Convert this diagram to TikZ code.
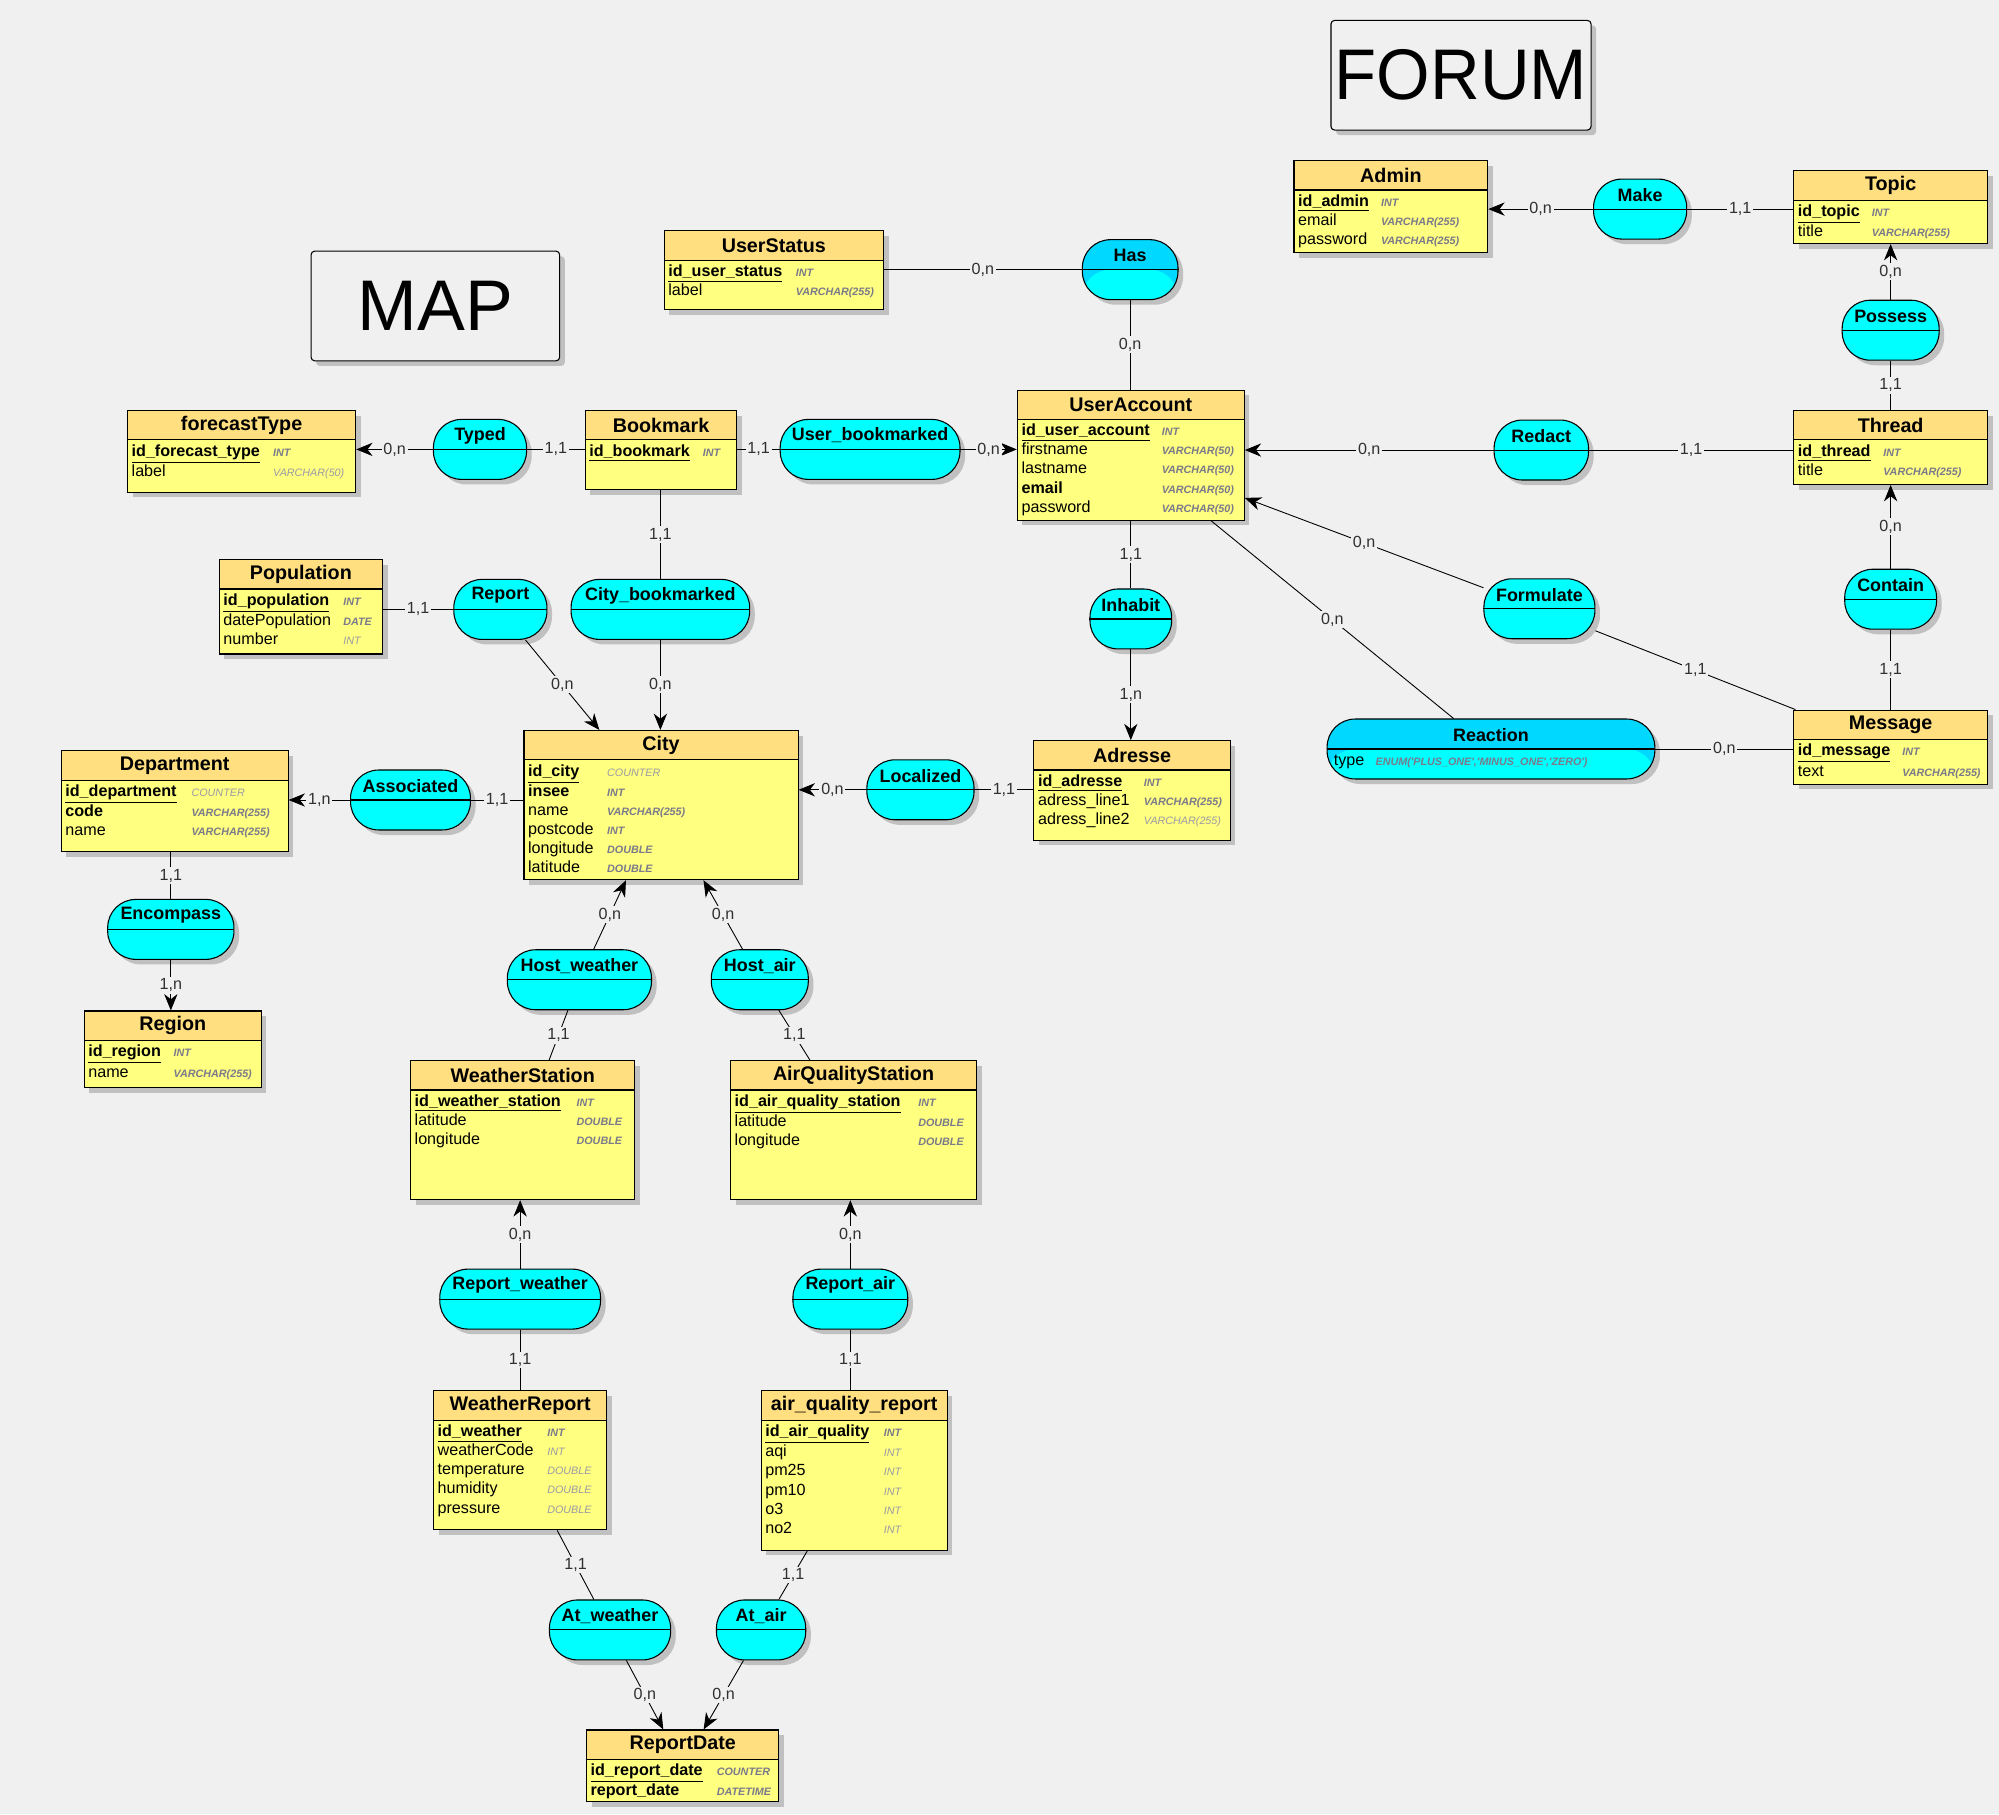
\documentclass[tikz,border=0pt]{standalone}
\usepackage{fontspec}
\setmainfont{Liberation Sans}
\usetikzlibrary{positioning,calc,fit,shadows,arrows.meta}

\definecolor{bgcol}{HTML}{F0F0F0}
\definecolor{entyellow}{HTML}{FFFF80}
\definecolor{headorange}{HTML}{FFDF80}
\definecolor{assoccyan}{HTML}{00FFFF}
\definecolor{assocdeep}{HTML}{00D8FF}
\definecolor{shadowgray}{HTML}{C0C0C0}
\definecolor{typegray}{HTML}{7A7A8A}
\definecolor{typelight}{HTML}{9A9AA6}
\definecolor{cardgray}{HTML}{303030}

\newlength\unitpx
\setlength\unitpx{0.025cm}

\tikzset{%
  entbody/.style={
    draw, fill=entyellow, inner sep=0pt, line width=0.6pt,
    drop shadow={shadow xshift=0.1cm, shadow yshift=-0.1cm, fill=shadowgray, opacity=1}
  },
  enthead/.style={draw, fill=headorange, inner sep=0pt, line width=0.6pt},
  enttitle/.style={font=\fontsize{11}{13}\selectfont\bfseries},
  entrows/.style={inner sep=0pt, font=\fontsize{9}{10.67}\selectfont},
  assoc/.style={
    draw, fill=assoccyan, rounded corners=0.55cm, minimum height=1.175cm,
    inner sep=0pt, line width=0.6pt,
    drop shadow={shadow xshift=0.1cm, shadow yshift=-0.1cm, fill=shadowgray, opacity=1}
  },
  assoctop/.style={
    fill=assocdeep,
    path picture={\fill[assoccyan] (path picture bounding box.west) rectangle (path picture bounding box.south east);}
  },
  assoctitle/.style={font=\fontsize{10}{12}\selectfont\bfseries},
  conn/.style={line width=0.5pt},
  arr/.style={conn, -{Stealth[length=0.32cm, width=0.26cm, inset=0.1cm]}},
  card/.style={fill=bgcol, inner sep=1pt, text=cardgray, font=\fontsize{9}{10}\selectfont},
  titlebox/.style={
    draw, fill=bgcol, rounded corners=2pt, inner sep=0pt, line width=0.6pt,
    drop shadow={shadow xshift=0.1cm, shadow yshift=-0.1cm, fill=shadowgray, opacity=1}
  },
  bigtext/.style={font=\fontsize{40}{44}\selectfont}
}

\newcommand\pkey[1]{\underline{\textbf{#1}}}
\newcommand\typ[1]{{\fontsize{6}{7}\selectfont\bfseries\itshape\color{typegray}#1}}
\newcommand\typl[1]{{\fontsize{6}{7}\selectfont\itshape\color{typelight}#1}}

% name, x1, y1, x2, y2, title, type column offset, rows
\newcommand\entitybox[8]{%
  \node[entbody, fit={(#2,#3) (#4,#5)}] (#1) {};
  \node[enthead, fit={(#2,#3) (#4,#3+23)}] (#1-h) {};
  \node[enttitle] at (#1-h) {#6};
  \node[entrows, anchor=north west] at (#2+3,#3+25)
    {\begin{tabular}{@{}p{\dimexpr#7\unitpx-3\unitpx\relax}@{}l@{}}#8\end{tabular}};
}

% [style], name, cx, cy, width (cm), title
\newcommand\assocnode[6][]{%
  \node[assoc, #1, minimum width=#5cm] (#2) at (#3,#4) {};
  \draw[line width=0.6pt] (#2.west) -- (#2.east);
  \node[assoctitle] at (#3,#4-11) {#6};
}

\begin{document}
\begin{tikzpicture}[x=0.025cm, y=-0.025cm]
\fill[bgcol] (0,0) rectangle (1568,1423);
\useasboundingbox (0,0) rectangle (1568,1423);

\node[titlebox, fit={(244,197) (439,283)}] (mapbox) {};
\node[bigtext] at (mapbox) {MAP};
\node[titlebox, fit={(1044,16) (1248,102)}] (forumbox) {};
\node[bigtext, xscale=0.96] at (forumbox) {FORUM};

% entities
\entitybox{userstatus}{521}{181}{693}{243}{UserStatus}{103}
  {\pkey{id\_user\_status} & \typ{INT}\\ label & \typ{VARCHAR(255)}}
\entitybox{admin}{1015}{126}{1167}{198}{Admin}{68}
  {\pkey{id\_admin} & \typ{INT}\\ email & \typ{VARCHAR(255)}\\ password & \typ{VARCHAR(255)}}
\entitybox{topic}{1407}{134}{1559}{191}{Topic}{61}
  {\pkey{id\_topic} & \typ{INT}\\ title & \typ{VARCHAR(255)}}
\entitybox{forecasttype}{100}{322}{279}{386}{forecastType}{114}
  {\pkey{id\_forecast\_type} & \typ{INT}\\ label & \typl{VARCHAR(50)}}
\entitybox{bookmark}{459}{322}{578}{384}{Bookmark}{92}
  {\pkey{id\_bookmark} & \typ{INT}}
\entitybox{useraccount}{798}{306}{976}{408}{UserAccount}{113}
  {\pkey{id\_user\_account} & \typ{INT}\\ firstname & \typ{VARCHAR(50)}\\ lastname & \typ{VARCHAR(50)}\\
   \textbf{email} & \typ{VARCHAR(50)}\\ password & \typ{VARCHAR(50)}}
\entitybox{thread}{1407}{322}{1559}{380}{Thread}{70}
  {\pkey{id\_thread} & \typ{INT}\\ title & \typ{VARCHAR(255)}}
\entitybox{population}{172}{439}{300}{513}{Population}{97}
  {\pkey{id\_population} & \typ{INT}\\ datePopulation & \typ{DATE}\\ number & \typl{INT}}
\entitybox{city}{411}{573}{626}{690}{City}{65}
  {\pkey{id\_city} & \typl{COUNTER}\\ \textbf{insee} & \typ{INT}\\ name & \typ{VARCHAR(255)}\\
   postcode & \typ{INT}\\ longitude & \typ{DOUBLE}\\ latitude & \typ{DOUBLE}}
\entitybox{adresse}{811}{581}{965}{659}{Adresse}{86}
  {\pkey{id\_adresse} & \typ{INT}\\ adress\_line1 & \typ{VARCHAR(255)}\\ adress\_line2 & \typl{VARCHAR(255)}}
\entitybox{message}{1407}{557}{1559}{615}{Message}{85}
  {\pkey{id\_message} & \typ{INT}\\ text & \typ{VARCHAR(255)}}
\entitybox{department}{48}{589}{226}{668}{Department}{102}
  {\pkey{id\_department} & \typl{COUNTER}\\ \textbf{code} & \typ{VARCHAR(255)}\\ name & \typ{VARCHAR(255)}}
\entitybox{region}{66}{793}{205}{853}{Region}{70}
  {\pkey{id\_region} & \typ{INT}\\ name & \typ{VARCHAR(255)}}
\entitybox{weatherstation}{322}{832}{498}{941}{WeatherStation}{130}
  {\pkey{id\_weather\_station} & \typ{INT}\\ latitude & \typ{DOUBLE}\\ longitude & \typ{DOUBLE}}
\entitybox{airstation}{573}{832}{766}{941}{AirQualityStation}{147}
  {\pkey{id\_air\_quality\_station} & \typ{INT}\\ latitude & \typ{DOUBLE}\\ longitude & \typ{DOUBLE}}
\entitybox{weatherreport}{340}{1091}{476}{1200}{WeatherReport}{89}
  {\pkey{id\_weather} & \typ{INT}\\ weatherCode & \typl{INT}\\ temperature & \typl{DOUBLE}\\
   humidity & \typl{DOUBLE}\\ pressure & \typl{DOUBLE}}
\entitybox{airreport}{597}{1091}{743}{1216}{air\_quality\_report}{96}
  {\pkey{id\_air\_quality} & \typ{INT}\\ aqi & \typl{INT}\\ pm25 & \typl{INT}\\ pm10 & \typl{INT}\\
   o3 & \typl{INT}\\ no2 & \typl{INT}}
\entitybox{reportdate}{460}{1357}{611}{1413}{ReportDate}{102}
  {\pkey{id\_report\_date} & \typ{COUNTER}\\ \textbf{report\_date} & \typ{DATETIME}}

% associations
\assocnode[assoctop]{has}{886.5}{211.5}{1.875}{Has}
\assocnode{make}{1286.5}{164}{1.825}{Make}
\assocnode{possess}{1483}{259}{1.9}{Possess}
\assocnode{typed}{376.5}{352.5}{1.825}{Typed}
\assocnode{userbm}{682.5}{352.5}{3.525}{User\_bookmarked}
\assocnode{redact}{1209}{353}{1.85}{Redact}
\assocnode{report}{392.5}{478}{1.825}{Report}
\assocnode{citybm}{518}{478}{3.5}{City\_bookmarked}
\assocnode{inhabit}{887}{485.5}{1.6}{Inhabit}
\assocnode{formulate}{1207.5}{477.5}{2.175}{Formulate}
\assocnode{contain}{1483}{470}{1.8}{Contain}
\assocnode[assoctop]{reaction}{1169.5}{587.5}{6.425}{Reaction}
\node[entrows, anchor=west] at (1046,598)
  {type\hspace{0.22cm}\typ{ENUM(\textquotesingle PLUS\_ONE\textquotesingle,\textquotesingle MINUS\_ONE\textquotesingle,\textquotesingle ZERO\textquotesingle)}};
\assocnode{localized}{722}{619.5}{2.1}{Localized}
\assocnode{associated}{322}{627.5}{2.35}{Associated}
\assocnode{encompass}{134}{729}{2.475}{Encompass}
\assocnode{hostw}{454.5}{768.5}{2.825}{Host\_weather}
\assocnode{hosta}{596}{768.5}{1.9}{Host\_air}
\assocnode{reportw}{408}{1019}{3.15}{Report\_weather}
\assocnode{reporta}{667}{1019}{2.25}{Report\_air}
\assocnode{atw}{478.5}{1278.5}{2.375}{At\_weather}
\assocnode{ata}{597}{1278.5}{1.75}{At\_air}

% connectors
\draw[conn] (has) -- node[card]{0,n} (has -| userstatus.east);
\draw[conn] (has) -- node[card]{0,n} (has |- useraccount.north);
\draw[arr] (make) -- node[card]{0,n} (make -| admin.east);
\draw[conn] (make) -- node[card]{1,1} (make -| topic.west);
\draw[arr] (possess) -- node[card]{0,n} (topic);
\draw[conn] (possess) -- node[card]{1,1} (thread);
\draw[arr] (typed) -- node[card]{0,n} (typed -| forecasttype.east);
\draw[conn] (typed) -- node[card]{1,1} (typed -| bookmark.west);
\draw[conn] (userbm) -- node[card]{1,1} (userbm -| bookmark.east);
\draw[arr] (userbm) -- node[card]{0,n} (userbm -| useraccount.west);
\draw[arr] (redact) -- node[card]{0,n} (redact -| useraccount.east);
\draw[conn] (redact) -- node[card]{1,1} (redact -| thread.west);
\draw[arr] (formulate) -- node[card]{0,n} (useraccount);
\draw[conn] (formulate) -- node[card]{1,1} (message);
\draw[conn] (reaction) -- node[card]{0,n} (useraccount);
\draw[conn] (reaction) -- node[card]{0,n} (reaction -| message.west);
\draw[arr] (contain) -- node[card]{0,n} (thread);
\draw[conn] (contain) -- node[card]{1,1} (message);
\draw[conn] (citybm) -- node[card]{1,1} (citybm |- bookmark.south);
\draw[arr] (citybm) -- node[card]{0,n} (citybm |- city.north);
\draw[conn] (report) -- node[card]{1,1} (report -| population.east);
\draw[arr] (report) -- node[card]{0,n} (city);
\draw[conn] (inhabit) -- node[card]{1,1} (inhabit |- useraccount.south);
\draw[arr] (inhabit) -- node[card]{1,n} (inhabit |- adresse.north);
\draw[arr] (localized) -- node[card]{0,n} (localized -| city.east);
\draw[conn] (localized) -- node[card]{1,1} (localized -| adresse.west);
\draw[arr] (associated) -- node[card]{1,n} (associated -| department.east);
\draw[conn] (associated) -- node[card]{1,1} (associated -| city.west);
\draw[conn] (encompass) -- node[card]{1,1} (encompass |- department.south);
\draw[arr] (encompass) -- node[card]{1,n} (encompass |- region.north);
\draw[arr] (hostw) -- node[card]{0,n} (city);
\draw[arr] (hosta) -- node[card]{0,n} (city);
\draw[conn] (hostw) -- node[card]{1,1} (weatherstation);
\draw[conn] (hosta) -- node[card]{1,1} (airstation);
\draw[arr] (reportw) -- node[card]{0,n} (reportw |- weatherstation.south);
\draw[conn] (reportw) -- node[card]{1,1} (reportw |- weatherreport.north);
\draw[arr] (reporta) -- node[card]{0,n} (reporta |- airstation.south);
\draw[conn] (reporta) -- node[card]{1,1} (reporta |- airreport.north);
\draw[conn] (atw) -- node[card]{1,1} (weatherreport);
\draw[conn] (ata) -- node[card]{1,1} (airreport);
\draw[arr] (atw) -- node[card]{0,n} (reportdate);
\draw[arr] (ata) -- node[card]{0,n} (reportdate);
\end{tikzpicture}
\end{document}
